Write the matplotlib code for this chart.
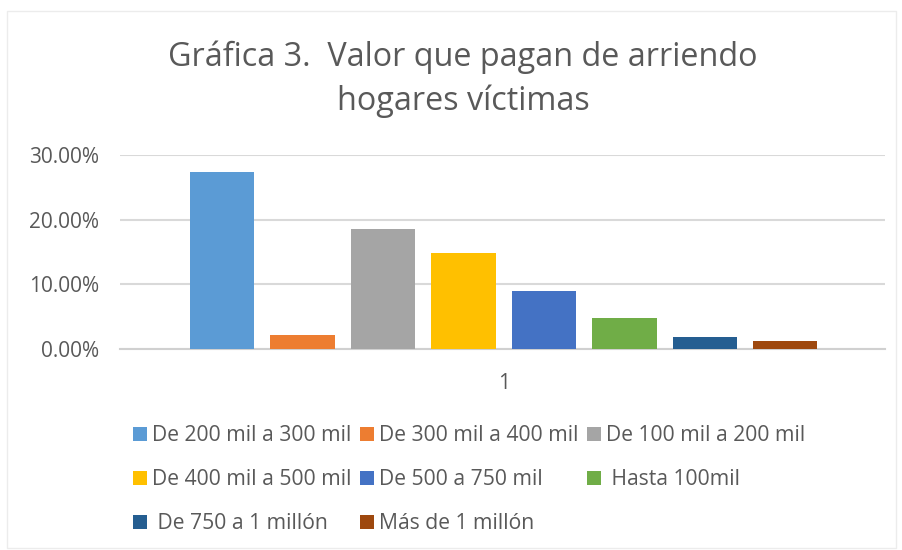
import matplotlib
matplotlib.use("Agg")
import matplotlib.pyplot as plt
from matplotlib.patches import Rectangle

categories = ["1"]
series = ["De 200 mil a 300 mil", "De 300 mil a 400 mil", "De 100 mil a 200 mil",
          "De 400 mil a 500 mil", "De 500 a 750 mil", " Hasta 100mil",
          " De 750 a 1 millón", "Más de 1 millón"]
values = [0.274, 0.022, 0.185, 0.148, 0.090, 0.048, 0.019, 0.012]
colors = ["#5B9BD5", "#ED7D31", "#A5A5A5", "#FFC000", "#4472C4", "#70AD47", "#255E91", "#9E480E"]
yticks = [0.0, 0.10, 0.20, 0.30]
title = "Gráfica 3.  Valor que pagan de arriendo\nhogares víctimas"

plt.rcParams['font.family'] = ['Open Sans', 'DejaVu Sans']
W, H = 903, 550
fig = plt.figure(figsize=(W/100, H/100), dpi=100)

# faint chart border
fig.patches.append(Rectangle((7/W, 1 - 548/H), 889/W, 537/H, transform=fig.transFigure,
                             fill=False, edgecolor="#ececec", linewidth=1))

ax = fig.add_axes([120/W, 1 - 349/H, 765/W, 194/H])
handles = []
for i, (s, v, c) in enumerate(zip(series, values, colors)):
    b = ax.bar(i, v, width=0.8, color=c, label=s, zorder=3)
    handles.append(b)

ax.set_xlim(-1.27, 8.24)
ax.set_ylim(0, 0.30)
ax.set_yticks(yticks)
ax.set_yticklabels([f"{t*100:.2f}%" for t in yticks])
ax.set_xticks([3.5])
ax.set_xticklabels(categories)
ax.tick_params(axis='both', length=0, labelsize=15, labelcolor="#595959")
ax.tick_params(axis='y', pad=15)
ax.tick_params(axis='x', pad=17)
ax.grid(axis='y', color="#d9d9d9", linewidth=1.5, zorder=0)
for sp in ["top", "right", "left"]:
    ax.spines[sp].set_visible(False)
ax.spines["bottom"].set_color("#d0d0d0")
ax.spines["bottom"].set_linewidth(1.5)

fig.text(463/W, 1 - 40/H, title, ha='center', va='top', fontsize=23.3, color="#595959",
         linespacing=1.42)

order = [0, 3, 6, 1, 4, 7, 2, 5]
leg = fig.legend([handles[k] for k in order], [series[k] for k in order], ncol=3,
                 loc='upper left', bbox_to_anchor=(133/W, 1 - 425/H),
                 bbox_transform=fig.transFigure, frameon=False, fontsize=15.2,
                 handlelength=0.65, handleheight=0.65, handletextpad=0.25,
                 columnspacing=0.4, labelspacing=1.1, borderpad=0, borderaxespad=0)
for t in leg.get_texts():
    t.set_color("#595959")

fig.savefig("out.png", dpi=100)
